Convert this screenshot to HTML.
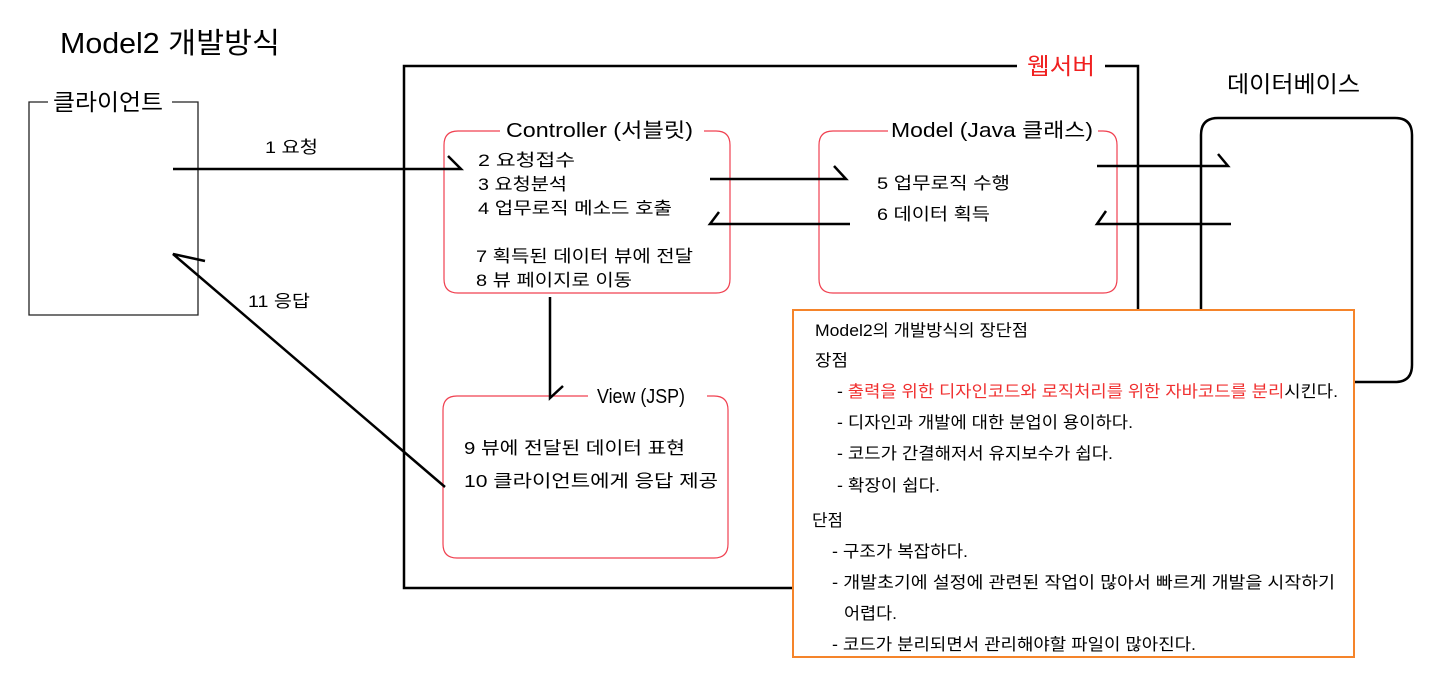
<!DOCTYPE html>
<html><head><meta charset="utf-8"><style>
body{margin:0;background:#fff;width:1444px;height:686px;overflow:hidden}
svg{display:block}
text{font-family:"Liberation Sans","Noto Sans CJK KR","NanumGothic",sans-serif;fill:#000}
</style></head><body>
<svg width="1444" height="686" viewBox="0 0 1444 686">
<text x="60" y="53" font-size="29" textLength="220" lengthAdjust="spacingAndGlyphs">Model2 개발방식</text>
<path d="M48 102 H29 V315 H198 V102 H172" fill="none" stroke="#222" stroke-width="1.3"/>
<text x="53" y="110" font-size="23" textLength="110" lengthAdjust="spacingAndGlyphs">클라이언트</text>
<path d="M1017 66 H404 V588 H793" fill="none" stroke="#000" stroke-width="2.5"/>
<path d="M1105 66 H1138 V315" fill="none" stroke="#000" stroke-width="2.5"/>
<text x="1027" y="74" font-size="23" style="fill:#f02020" textLength="68" lengthAdjust="spacingAndGlyphs">웹서버</text>
<path d="M1201 315 V135 Q1201 118 1218 118 H1395 Q1412 118 1412 135 V365 Q1412 382 1395 382 H1355" fill="none" stroke="#000" stroke-width="2.5"/>
<text x="1227" y="92" font-size="23" textLength="133" lengthAdjust="spacingAndGlyphs">데이터베이스</text>
<path d="M500 131 H458 Q444 131 444 145 V279 Q444 293 458 293 H716 Q730 293 730 279 V145 Q730 131 716 131 H704" fill="none" stroke="#f04050" stroke-width="1.2"/>
<text x="506" y="137" font-size="20" textLength="187" lengthAdjust="spacingAndGlyphs">Controller (서블릿)</text>
<text x="478" y="166" font-size="17" textLength="97" lengthAdjust="spacingAndGlyphs">2 요청접수</text>
<text x="478" y="190" font-size="17" textLength="89" lengthAdjust="spacingAndGlyphs">3 요청분석</text>
<text x="478" y="214" font-size="17" textLength="194" lengthAdjust="spacingAndGlyphs">4 업무로직 메소드 호출</text>
<text x="476" y="262" font-size="17" textLength="217" lengthAdjust="spacingAndGlyphs">7 획득된 데이터 뷰에 전달</text>
<text x="476" y="286" font-size="17" textLength="156" lengthAdjust="spacingAndGlyphs">8 뷰 페이지로 이동</text>
<path d="M888 131 H833 Q819 131 819 145 V279 Q819 293 833 293 H1103 Q1117 293 1117 279 V145 Q1117 131 1103 131 H1098" fill="none" stroke="#f04050" stroke-width="1.2"/>
<text x="891" y="137" font-size="20" textLength="202" lengthAdjust="spacingAndGlyphs">Model (Java 클래스)</text>
<text x="877" y="189" font-size="17" textLength="133" lengthAdjust="spacingAndGlyphs">5 업무로직 수행</text>
<text x="877" y="220" font-size="17" textLength="113" lengthAdjust="spacingAndGlyphs">6 데이터 획득</text>
<path d="M588 396 H457 Q443 396 443 410 V544 Q443 558 457 558 H714 Q728 558 728 544 V410 Q728 396 714 396 H707" fill="none" stroke="#f04050" stroke-width="1.2"/>
<text x="597" y="403" font-size="20" textLength="88" lengthAdjust="spacingAndGlyphs">View (JSP)</text>
<text x="464" y="454" font-size="17.5" textLength="221" lengthAdjust="spacingAndGlyphs">9 뷰에 전달된 데이터 표현</text>
<text x="464" y="487" font-size="17.5" textLength="254" lengthAdjust="spacingAndGlyphs">10 클라이언트에게 응답 제공</text>
<g fill="none" stroke="#000" stroke-width="2.5">
<path d="M173 169 H461 L448 156"/>
<path d="M710 179 H846 L834 166"/>
<path d="M850 224 H710 L719 212"/>
<path d="M1097 166 H1228 L1218 154"/>
<path d="M1231 224 H1097 L1106 211"/>
<path d="M550 297 V398 L563 386"/>
<path d="M445 487 L173 254 L205 261"/>
</g>
<text x="265" y="153" font-size="17" textLength="53" lengthAdjust="spacingAndGlyphs">1 요청</text>
<text x="248" y="307" font-size="17" textLength="62" lengthAdjust="spacingAndGlyphs">11 응답</text>
<rect x="793" y="310" width="561" height="347" fill="#fff" stroke="#f5842a" stroke-width="2"/>
<g font-size="16.5">
<text x="815" y="336" textLength="213" lengthAdjust="spacingAndGlyphs">Model2의 개발방식의 장단점</text>
<text x="815" y="366" textLength="33" lengthAdjust="spacingAndGlyphs">장점</text>
<text x="837" y="397" textLength="501" lengthAdjust="spacingAndGlyphs"><tspan>- </tspan><tspan style="fill:#f03030">출력을 위한 디자인코드와 로직처리를 위한 자바코드를 분리</tspan>시킨다.</text>
<text x="837" y="428" textLength="296" lengthAdjust="spacingAndGlyphs">- 디자인과 개발에 대한 분업이 용이하다.</text>
<text x="837" y="459" textLength="276" lengthAdjust="spacingAndGlyphs">- 코드가 간결해저서 유지보수가 쉽다.</text>
<text x="837" y="491" textLength="103" lengthAdjust="spacingAndGlyphs">- 확장이 쉽다.</text>
<text x="812" y="526" textLength="31" lengthAdjust="spacingAndGlyphs">단점</text>
<text x="832" y="557" textLength="136" lengthAdjust="spacingAndGlyphs">- 구조가 복잡하다.</text>
<text x="832" y="588" textLength="503" lengthAdjust="spacingAndGlyphs">- 개발초기에 설정에 관련된 작업이 많아서 빠르게 개발을 시작하기</text>
<text x="844" y="619" textLength="53" lengthAdjust="spacingAndGlyphs">어렵다.</text>
<text x="832" y="650" textLength="364" lengthAdjust="spacingAndGlyphs">- 코드가 분리되면서 관리해야할 파일이 많아진다.</text>
</g>
</svg>
</body></html>
